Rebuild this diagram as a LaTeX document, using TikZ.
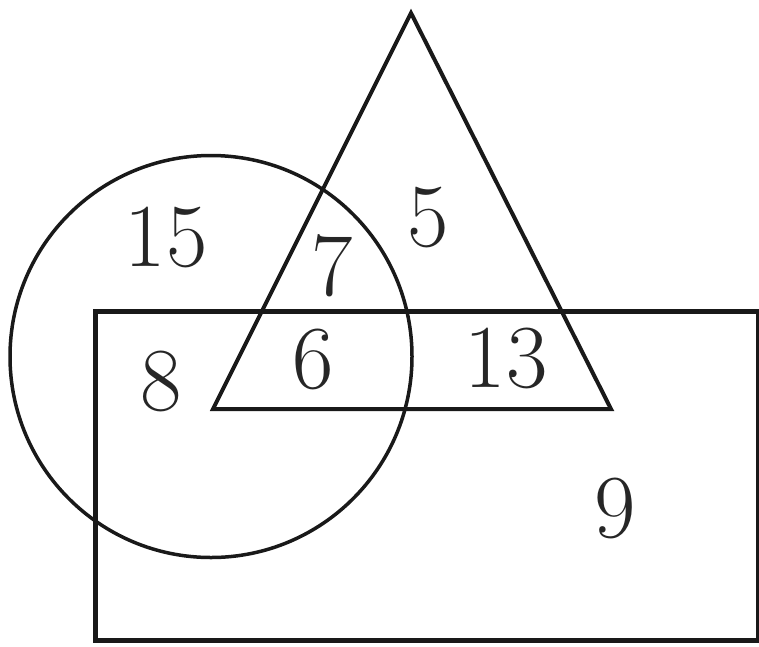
\documentclass[tikz,border=0pt]{standalone}
\begin{document}
\begin{tikzpicture}[x=1pt,y=-1pt,
  shapeline/.style={draw=black!90,line width=4pt,line join=miter},
  num/.style={font=\fontsize{90}{100}\selectfont,text=black!85,inner sep=0pt}]
\useasboundingbox (0,0) rectangle (759,646);
% rectangle
\draw[shapeline,line width=5pt] (95,311) rectangle (758,640);
% circle
\draw[shapeline,line width=3.5pt] (211,356.5) circle[radius=201];
% triangle
\coordinate (apex) at (411,13);
\coordinate (bl) at (213,409);
\coordinate (br) at (611,409);
\draw[shapeline] (apex) -- (br) -- (bl) -- cycle;
% numbers
\node[num] (n15) at (166,237) {15};
\node[num] (n5) at (428,218) {5};
\node[num] (n7) at (332,266) {7};
\node[num] (n8) at (161,381) {8};
\node[num] (n6) at (313,359) {6};
\node[num] (n13) at (506,358) {13};
\node[num] (n9) at (615,508) {9};
\end{tikzpicture}
\end{document}
